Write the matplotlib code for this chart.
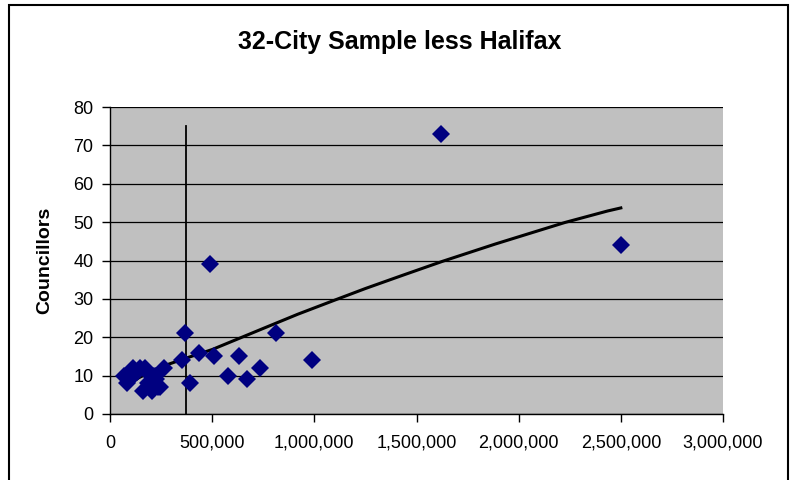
import matplotlib
matplotlib.use("Agg")
import matplotlib.pyplot as plt
from matplotlib.patches import Rectangle
from matplotlib.ticker import FuncFormatter

plt.rcParams['font.family'] = ['Liberation Sans', 'DejaVu Sans']

# Data (population, councillors)
population = [69000, 83000, 98000, 113000, 130000, 147000, 162000, 170000,
              181000, 185000, 206000, 210000, 225000, 235000, 245000, 220000,
              264000, 352000, 369000, 392000, 436000, 489000, 507000, 579000,
              633000, 669000, 732000, 813000, 987000, 1618000, 2501000]
councillors = [10, 8, 9, 12, 11, 12, 6, 12,
               11, 8, 6, 10, 9, 7, 7, 10,
               12, 14, 21, 8, 16, 39, 15, 10,
               15, 9, 12, 21, 14, 73, 44]

# Trend line points
trend_x = [69000, 150000, 250000, 369000, 500000, 750000, 919000, 1096000,
           1250000, 1435000, 1628000, 1886000, 2226000, 2435000, 2500000]
trend_y = [7.3, 9.7, 12.3, 14.5, 16.8, 22.3, 26.0, 29.6,
           32.7, 36.2, 39.8, 44.3, 49.9, 52.9, 53.7]

# Vertical reference line
vline_x = 372000
vline_top = 75

x_ticks = [0, 500000, 1000000, 1500000, 2000000, 2500000, 3000000]
y_ticks = [0, 10, 20, 30, 40, 50, 60, 70, 80]

fig = plt.figure(figsize=(7.91, 4.80), dpi=100)
fig.patch.set_facecolor('white')

# outer chart border
fig.patches.append(Rectangle((9/791, -0.05), (788-9)/791, (480-5)/480 + 0.05,
                             transform=fig.transFigure, fill=False,
                             edgecolor='black', linewidth=1.5))

ax = fig.add_axes([110/791, 66/480, 613/791, 307/480])
ax.set_facecolor('#C0C0C0')
ax.set_xlim(0, 3000000)
ax.set_ylim(0, 80)
ax.set_xticks(x_ticks)
ax.set_yticks(y_ticks)
ax.xaxis.set_major_formatter(FuncFormatter(lambda v, p: f"{int(v):,}"))
ax.yaxis.grid(True, color='black', linewidth=0.9)
ax.set_axisbelow(True)
for s in ['top', 'right']:
    ax.spines[s].set_visible(False)
for s in ['left', 'bottom']:
    ax.spines[s].set_color('black')
    ax.spines[s].set_linewidth(1.0)
ax.tick_params(axis='both', direction='out', length=6, width=1, colors='black',
               labelsize=13)
ax.tick_params(axis='x', pad=9)
ax.tick_params(axis='y', pad=6)

ax.plot([vline_x, vline_x], [0, vline_top], color='black', linewidth=1.3, zorder=2)
ax.plot(trend_x, trend_y, color='black', linewidth=2.2, zorder=3)
ax.plot(population, councillors, linestyle='none', marker='D', markersize=9.5,
        color='#000080', markeredgewidth=0, zorder=4)

ax.set_ylabel('Councillors', fontsize=14, fontweight='bold', labelpad=14)
fig.text(400/791, 1 - 42/480, '32-City Sample less Halifax', ha='center', va='center',
         fontsize=18, fontweight='bold')

fig.savefig('out.png', dpi=100)
